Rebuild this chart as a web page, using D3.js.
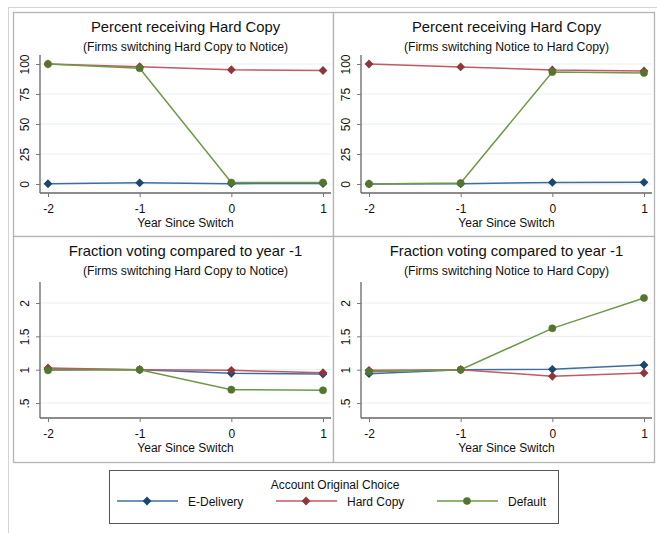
<!DOCTYPE html>
<html>
<head>
<meta charset="utf-8">
<script src="https://cdn.jsdelivr.net/npm/d3@7"></script>
<style>
  body { margin: 0; background: #fff; }
  text { font-family: "Liberation Sans", Arial, sans-serif; fill: #111; }
</style>
</head>
<body>
<div id="chart"></div>
<script>
// Chart data
var years = [-2, -1, 0, 1];
var seriesNames = ["E-Delivery", "Hard Copy", "Default"];

// Percent receiving hard copy, firms switching Hard Copy -> Notice
var pctToNoticeEDelivery = [0.2, 1.0, 0.3, 0.4];
var pctToNoticeHardCopy = [100, 97.8, 95.2, 94.6];
var pctToNoticeDefault = [100, 96.5, 1.2, 1.2];

// Percent receiving hard copy, firms switching Notice -> Hard Copy
var pctToHardEDelivery = [0.1, 0.2, 1.3, 1.4];
var pctToHardHardCopy = [100, 97.6, 95.0, 94.2];
var pctToHardDefault = [0.1, 0.8, 93.4, 92.6];

// Fraction voting relative to year -1, Hard Copy -> Notice
var voteToNoticeEDelivery = [1.01, 1.0, 0.945, 0.935];
var voteToNoticeHardCopy = [1.025, 1.0, 0.99, 0.955];
var voteToNoticeDefault = [0.99, 1.0, 0.70, 0.69];

// Fraction voting relative to year -1, Notice -> Hard Copy
var voteToHardEDelivery = [0.94, 1.0, 1.005, 1.07];
var voteToHardHardCopy = [0.99, 1.0, 0.90, 0.95];
var voteToHardDefault = [0.97, 1.0, 1.62, 2.075];

var pctTicks = [0, 25, 50, 75, 100];
var voteTicks = [0.5, 1, 1.5, 2];
var voteTickLabels = [".5", "1", "1.5", "2"];

var width = 657;
var height = 533;

var lineColors = ["#3f6e9e", "#c05a63", "#6f9945"];
var markColors = ["#1a476f", "#90353b", "#55752f"];

var svg = d3.select("#chart")
    .append("svg")
    .attr("width", width)
    .attr("height", height);

// outer frame
svg.append("rect")
    .attr("x", 8.5).attr("y", 7.5)
    .attr("width", 700).attr("height", 600)
    .attr("fill", "none")
    .attr("stroke", "#d4d4d4");

var panels = [
    { col: 0, row: 0, title: "Percent receiving Hard Copy", sub: "(Firms switching Hard Copy to Notice)",
      data: [pctToNoticeEDelivery, pctToNoticeHardCopy, pctToNoticeDefault], kind: "pct" },
    { col: 1, row: 0, title: "Percent receiving Hard Copy", sub: "(Firms switching Notice to Hard Copy)",
      data: [pctToHardEDelivery, pctToHardHardCopy, pctToHardDefault], kind: "pct" },
    { col: 0, row: 1, title: "Fraction voting compared to year -1", sub: "(Firms switching Hard Copy to Notice)",
      data: [voteToNoticeEDelivery, voteToNoticeHardCopy, voteToNoticeDefault], kind: "vote" },
    { col: 1, row: 1, title: "Fraction voting compared to year -1", sub: "(Firms switching Notice to Hard Copy)",
      data: [voteToHardEDelivery, voteToHardHardCopy, voteToHardDefault], kind: "vote" }
];

function diamond(r) {
    return "M0," + (-r) + "L" + r + ",0L0," + r + "L" + (-r) + ",0Z";
}

function drawMarker(g, i, x, y) {
    if (i === 2) {
        g.append("circle").attr("cx", x).attr("cy", y).attr("r", 3.6)
            .attr("fill", markColors[i]).attr("stroke", markColors[i]).attr("stroke-width", 0.6);
    } else {
        g.append("path").attr("d", diamond(4.4))
            .attr("transform", "translate(" + x + "," + y + ")")
            .attr("fill", markColors[i]);
    }
}

panels.forEach(function(p) {
    var dx = p.col * 321;
    var px0 = 13 + p.col * 320, px1 = p.col ? 654 : 333;
    var py0 = 12 + p.row * 224, py1 = p.row ? 462 : 236;

    var g = svg.append("g");
    g.append("rect")
        .attr("x", px0 + 0.5).attr("y", py0 + 0.5)
        .attr("width", px1 - px0).attr("height", py1 - py0)
        .attr("fill", "#fff")
        .attr("stroke", "#b4b4b4")
        .attr("stroke-width", 1.3);

    var left = 40 + dx, right = 331 + dx;
    var x = d3.scaleLinear().domain([-2, 1]).range([48 + dx, 323 + dx]);

    var y, top, bottom, ticks, tickLabels;
    if (p.kind === "pct") {
        y = d3.scaleLinear().domain([0, 100]).range([184, 64]);
        top = 55; bottom = 193;
        ticks = pctTicks; tickLabels = pctTicks.map(String);
    } else {
        y = d3.scaleLinear().domain([0.5, 2]).range([403, 303]);
        top = 282; bottom = 418;
        ticks = voteTicks; tickLabels = voteTickLabels;
    }

    // gridlines
    g.selectAll(".grid").data(ticks).enter().append("line")
        .attr("x1", left).attr("x2", right)
        .attr("y1", function(d) { return y(d); })
        .attr("y2", function(d) { return y(d); })
        .attr("stroke", "#e6eff1")
        .attr("stroke-width", 1);

    // axes
    var yAxis = d3.axisLeft(y).tickValues(ticks).tickSize(4)
        .tickFormat(function(d, i) { return tickLabels[i]; });
    var yg = g.append("g").attr("transform", "translate(" + left + ",0)").call(yAxis);
    yg.select(".domain").attr("d", "M0," + top + "V" + bottom).attr("stroke", "#666").attr("stroke-width", 1.3);
    yg.selectAll(".tick line").attr("stroke", "#777");
    yg.selectAll(".tick text")
        .attr("x", null).attr("dy", null)
        .attr("text-anchor", "middle")
        .attr("transform", "translate(-11.5,0) rotate(-90)")
        .style("font-size", "12px")
        .style("font-family", "Liberation Sans, Arial, sans-serif")
        .attr("fill", "#111");

    var xAxis = d3.axisBottom(x).tickValues(years).tickSize(4)
        .tickFormat(function(d) { return String(d); });
    var xg = g.append("g").attr("transform", "translate(0," + bottom + ")").call(xAxis);
    xg.select(".domain").attr("d", "M" + left + ",0H" + right).attr("stroke", "#666").attr("stroke-width", 1.3);
    xg.selectAll(".tick line").attr("stroke", "#777");
    xg.selectAll(".tick text")
        .attr("y", 19.5).attr("dy", null)
        .style("font-size", "12px")
        .style("font-family", "Liberation Sans, Arial, sans-serif")
        .attr("fill", "#111");

    var cx = (left + right) / 2;
    g.append("text").attr("x", cx).attr("y", bottom + 34)
        .attr("text-anchor", "middle").style("font-size", "12px")
        .text("Year Since Switch");

    g.append("text").attr("x", cx).attr("y", py0 + 20)
        .attr("text-anchor", "middle").style("font-size", "14.8px")
        .text(p.title);
    g.append("text").attr("x", cx).attr("y", py0 + 38.5)
        .attr("text-anchor", "middle").style("font-size", "12.2px")
        .text(p.sub);

    // series
    var line = d3.line()
        .x(function(d, i) { return x(years[i]); })
        .y(function(d) { return y(d); });

    p.data.forEach(function(vals, si) {
        g.append("path").datum(vals)
            .attr("d", line)
            .attr("fill", "none")
            .attr("stroke", lineColors[si])
            .attr("stroke-width", 1.5);
        vals.forEach(function(v, i) {
            drawMarker(g, si, x(years[i]), y(v));
        });
    });
});

// Legend
var lg = svg.append("g");
lg.append("rect")
    .attr("x", 109.5).attr("y", 470.5)
    .attr("width", 449).attr("height", 53)
    .attr("fill", "#fff")
    .attr("stroke", "#555")
    .attr("stroke-width", 1);
lg.append("text").attr("x", 335).attr("y", 489)
    .attr("text-anchor", "middle").style("font-size", "12px")
    .text("Account Original Choice");

var legendX = [117, 276, 437];
seriesNames.forEach(function(name, i) {
    var x0 = legendX[i];
    lg.append("line")
        .attr("x1", x0).attr("x2", x0 + 61)
        .attr("y1", 501).attr("y2", 501)
        .attr("stroke", lineColors[i])
        .attr("stroke-width", 1.5);
    drawMarker(lg, i, x0 + 30, 501);
    lg.append("text").attr("x", x0 + 71).attr("y", 505.5)
        .style("font-size", "12px")
        .text(name);
});
</script>
</body>
</html>
